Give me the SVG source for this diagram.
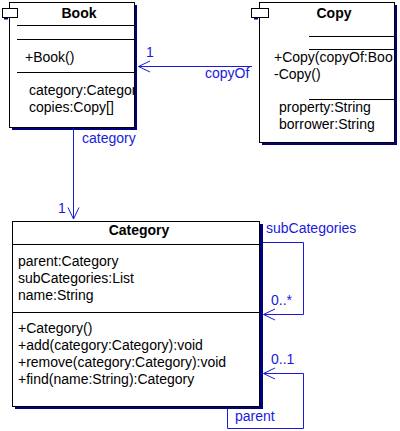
<svg xmlns="http://www.w3.org/2000/svg" width="400" height="431" viewBox="0 0 400 431">
<style>
.box{fill:#fff;stroke:#000;stroke-width:1}
.shadow{fill:#000080}
.sep{stroke:#000;stroke-width:1}
.t{font-family:"Liberation Sans",Arial,sans-serif;font-size:14px;fill:#000}
.title{font-family:"Liberation Sans",Arial,sans-serif;font-size:14px;font-weight:bold;fill:#000;text-anchor:middle}
.lbl{font-family:"Liberation Sans",Arial,sans-serif;font-size:14px;fill:#1a1adc}
.conn{fill:none;stroke:#1a1adc;stroke-width:1}
.icon{fill:#fff;stroke:#000;stroke-width:1}
</style>
<defs>
<clipPath id="clipBook"><rect x="9" y="2" width="125" height="125"/></clipPath>
</defs>
<g id="Book">
<rect class="shadow" x="12" y="5" width="125" height="125"/>
<rect class="box" x="9.5" y="2.5" width="125" height="125"/>
<rect class="shadow" x="4" y="17" width="4" height="2.5"/>
<rect class="icon" x="2.5" y="8.5" width="15" height="9"/>
<text class="title" x="79" y="18">Book</text>
<line class="sep" x1="17" y1="25.5" x2="134" y2="25.5"/>
<line class="sep" x1="17" y1="39.5" x2="134" y2="39.5"/>
<text class="t" x="25" y="62">+Book()</text>
<line class="sep" x1="17" y1="72.5" x2="134" y2="72.5"/>
<g clip-path="url(#clipBook)">
<text class="t" x="29" y="95">category:Categor</text>
</g>
<text class="t" x="29" y="112">copies:Copy[]</text>
</g>
<g id="Copy">
<rect class="shadow" x="262" y="5" width="135" height="140"/>
<rect class="box" x="259.5" y="2.5" width="135" height="140"/>
<rect class="shadow" x="254" y="17" width="4" height="2.5"/>
<rect class="icon" x="251.5" y="8.5" width="17" height="9"/>
<text class="title" x="334" y="18">Copy</text>
<line class="sep" x1="309" y1="36.5" x2="394" y2="36.5"/>
<line class="sep" x1="309" y1="49.5" x2="394" y2="49.5"/>
<text class="t" x="274" y="62">+Copy(copyOf:Boo</text>
<text class="t" x="274" y="79">-Copy()</text>
<line class="sep" x1="309" y1="99.5" x2="394" y2="99.5"/>
<text class="t" x="279" y="112">property:String</text>
<text class="t" x="279" y="129">borrower:String</text>
</g>
<g id="Category">
<rect class="shadow" x="15" y="224" width="248" height="185"/>
<rect class="box" x="12.5" y="221.5" width="247" height="185"/>
<text class="title" x="139" y="235">Category</text>
<line class="sep" x1="12" y1="244.5" x2="259" y2="244.5"/>
<text class="t" x="18" y="266">parent:Category</text>
<text class="t" x="18" y="283">subCategories:List</text>
<text class="t" x="18" y="300">name:String</text>
<line class="sep" x1="12" y1="312.5" x2="259" y2="312.5"/>
<text class="t" x="18" y="333">+Category()</text>
<text class="t" x="18" y="350">+add(category:Category):void</text>
<text class="t" x="18" y="367">+remove(category:Category):void</text>
<text class="t" x="18" y="384">+find(name:String):Category</text>
</g>
<g id="connectors">
<path class="conn" d="M252,66.5 H138.5 M150,61 L138.5,66.5 L150,72"/>
<text class="lbl" x="146" y="57">1</text>
<text class="lbl" x="205" y="78">copyOf</text>
<path class="conn" d="M73.5,130 V219 M68,207.5 L73.5,219 L79,207.5"/>
<text class="lbl" x="82" y="143">category</text>
<text class="lbl" x="58" y="213">1</text>
<path class="conn" d="M263,242.5 H303.5 V314.5 H263.5 M275,309 L263.5,314.5 L275,320"/>
<text class="lbl" x="266" y="233">subCategories</text>
<text class="lbl" x="271" y="305">0..*</text>
<path class="conn" d="M263.5,373.5 H303.5 V428.5 H227.5 V409 M275,368 L263.5,373.5 L275,379"/>
<text class="lbl" x="271" y="364">0..1</text>
<text class="lbl" x="235" y="421">parent</text>
</g>
</svg>
